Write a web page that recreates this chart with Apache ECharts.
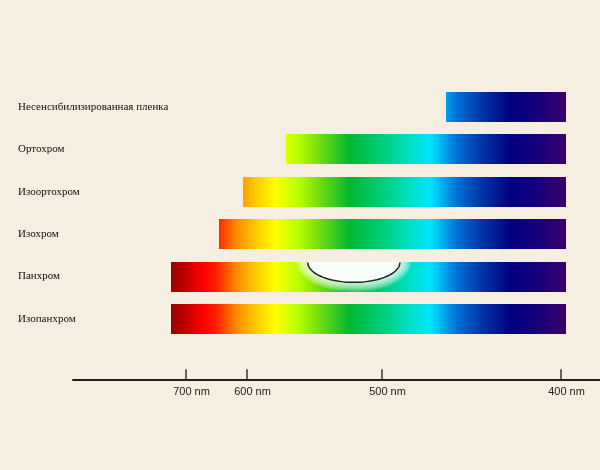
<!DOCTYPE html>
<html>
<head>
<meta charset="utf-8">
<script src="https://cdn.jsdelivr.net/npm/echarts@6/dist/echarts.min.js"></script>
<style>
html,body{margin:0;padding:0;background:#f6eee1;}
#chart{width:600px;height:470px;}
</style>
</head>
<body>
<div id="chart"></div>
<script>
// ---- data ----
const categories = ['Несенсибилизированная пленка','Ортохром','Изоортохром','Изохром','Панхром','Изопанхром'];
const startNm = [464, 571, 607, 646, 725, 725];   // long-wave edge of sensitivity
const endNm   = [397, 397, 397, 397, 397, 397];   // short-wave edge
const dipFromNm = [null, null, null, null, 555, null]; // green sensitivity gap
const dipToNm   = [null, null, null, null, 490, null];
const tickNm = [700, 600, 500, 400];
const tickLabels = ['700 nm','600 nm','500 nm','400 nm'];

// nonlinear wavelength scale of the drawing (nm -> axis units)
const scaleNm    = [800, 700, 600, 500, 400, 300];
const scaleUnits = [52, 113, 174, 309, 488, 667];

// spectrum colour stops (nm)
const specNm  = [725, 710, 672, 652, 616, 594, 579, 562, 546, 524, 498, 484, 473, 458, 445, 428, 412, 397];
const specCol = ['#9c0000','#b00000','#ff0000','#ff1a00','#ff8c00','#ffc800','#ffff00','#b8ff00','#70dd10',
                 '#00b830','#00d080','#00e0c8','#00e5ff','#0070d8','#0038a8','#000080','#18007a','#3c006c'];

function warp(nm){
  for (let i=0;i<scaleNm.length-1;i++){
    const a=scaleNm[i], b=scaleNm[i+1];
    if (nm<=a && nm>=b){
      return scaleUnits[i] + (a-nm)/(a-b)*(scaleUnits[i+1]-scaleUnits[i]);
    }
  }
  return nm>scaleNm[0]?scaleUnits[0]:scaleUnits[scaleUnits.length-1];
}
const tickU = tickNm.map(warp);

const seriesData = categories.map((c,i)=>[i, warp(startNm[i]), warp(endNm[i]),
  dipFromNm[i]==null?NaN:warp(dipFromNm[i]), dipToNm[i]==null?NaN:warp(dipToNm[i])]);

function halfEllipsePts(cx, cy, rx, ry){
  const pts=[];
  const n=48;
  for (let k=0;k<=n;k++){
    const t=Math.PI*k/n;           // 0..PI, lower half
    pts.push([cx-rx*Math.cos(t), cy+ry*Math.sin(t)]);
  }
  return pts;
}

function renderItem(params, api){
  const row = api.value(0);
  const p1 = api.coord([api.value(1), row]);
  const p2 = api.coord([api.value(2), row]);
  const h = Math.round(api.size([0,1])[1]*0.71);
  const y0 = Math.round(p1[1]-h/2);
  const g0 = api.coord([warp(specNm[0]), row])[0];
  const g1 = api.coord([warp(specNm[specNm.length-1]), row])[0];
  const stops = specNm.map((nm,k)=>({
    offset: Math.min(1,Math.max(0,(api.coord([warp(nm),row])[0]-g0)/(g1-g0))),
    color: specCol[k]
  }));
  const children = [{
    type:'rect',
    shape:{x:Math.round(p1[0]), y:y0, width:Math.round(p2[0])-Math.round(p1[0]), height:h},
    style:{fill:{type:'linear', x:g0, y:0, x2:g1, y2:0, global:true, colorStops:stops}}
  }];
  const d1 = api.value(3), d2 = api.value(4);
  if (!isNaN(d1) && !isNaN(d2)){
    const a = api.coord([d1,row])[0], b = api.coord([d2,row])[0];
    const cx=(a+b)/2, rx=(b-a)/2, ry=h*0.66, cy=y0;
    const glowMax = h-ry;
    for (let k=7;k>=1;k--){
      const m = glowMax*k/7;
      children.push({type:'polygon', shape:{points:halfEllipsePts(cx,cy,rx+m*1.1,ry+m)},
        style:{fill:'rgba(255,255,255,0.2)', stroke:null, lineWidth:0}});
    }
    children.push({type:'polygon', shape:{points:halfEllipsePts(cx,cy,rx,ry)},
      style:{fill:'rgba(252,255,252,0.92)', stroke:null, lineWidth:0}});
    children.push({type:'polyline', shape:{points:halfEllipsePts(cx,cy+0.5,rx,ry)},
      style:{fill:null, stroke:'#222', lineWidth:1.5}});
  }
  return {type:'group', children};
}

const chart = echarts.init(document.getElementById('chart'), null, {renderer:'canvas'});
chart.setOption({
  backgroundColor:'#f6eee1',
  animation:false,
  grid:{left:73, right:0, top:85.8, height:254.4},
  xAxis:{
    type:'value', min:0, max:527, offset:40,
    splitLine:{show:false},
    axisLine:{show:true, lineStyle:{color:'#1e1e1e', width:2}},
    axisTick:{show:true, inside:true, length:11, customValues:tickU, lineStyle:{color:'#333', width:1.5}},
    axisLabel:{customValues:tickU, margin:6, padding:[0,0,0,11], color:'#222', fontSize:11,
      fontFamily:'Liberation Sans, Arial, sans-serif',
      formatter:(v)=>{const i=tickU.findIndex(t=>Math.abs(t-v)<1e-6); return i>=0?tickLabels[i]:'';}}
  },
  yAxis:{
    type:'category', data:categories, inverse:true,
    axisLine:{show:false}, axisTick:{show:false}, splitLine:{show:false},
    axisLabel:{align:'left', margin:55, color:'#111', fontSize:11,
      fontFamily:'Liberation Serif, Times New Roman, serif'}
  },
  series:[{
    type:'custom', renderItem, clip:false,
    encode:{x:[1,2], y:0},
    data:seriesData
  }]
});
</script>
</body>
</html>
